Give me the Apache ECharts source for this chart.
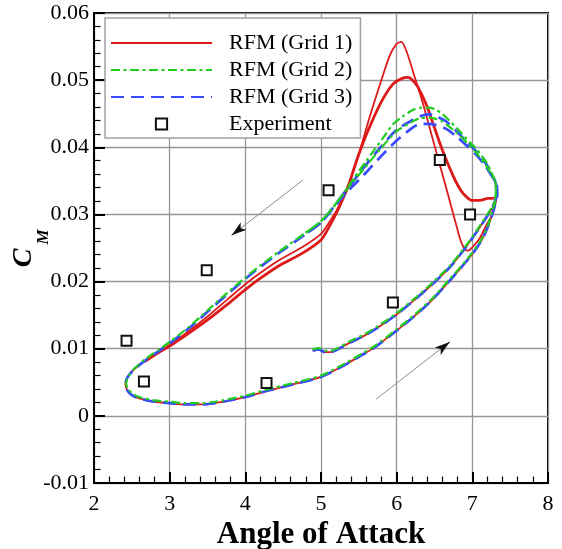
<!DOCTYPE html>
<html>
<head>
<meta charset="utf-8">
<script src="https://cdn.jsdelivr.net/npm/echarts@6/dist/echarts.min.js"></script>
<style>
  html, body { margin: 0; padding: 0; background: #fff; }
  #chart { width: 562px; height: 549px; }
</style>
</head>
<body>
<div id="chart"></div>
<script>
// Axis ranges
const xRange = [2, 8];
const yRange = [-0.01, 0.06];
const seriesNames = ['RFM (Grid 1)', 'RFM (Grid 2)', 'RFM (Grid 3)', 'Experiment'];

// Grid 3: start-up transient, first cycle, second cycle (alpha, Cm)
const grid3 = [
  [4.89,0.0097],[4.97,0.0099],[5.05,0.0095],[5.13,0.0095],[5.22,0.0099],[5.38,0.0109],[5.55,0.0118],[5.73,0.0130],
  [6.0,0.0151],[6.26,0.0175],[6.5,0.0199],[6.7,0.0221],[6.9,0.0249],[7.07,0.0276],[7.2,0.0298],[7.28,0.0314],[7.32,0.0330],
  [7.31,0.0346],[7.27,0.0357],[7.19,0.0374],[7.05,0.0394],[6.92,0.0409],[6.79,0.0424],[6.66,0.0438],[6.53,0.0446],
  [6.44,0.0449],[6.33,0.0447],[6.22,0.0441],[6.0,0.0426],[5.78,0.0399],[5.56,0.0369],[5.34,0.0337],[5.11,0.0303],
  [4.99,0.0287],[4.75,0.0267],[4.45,0.0243],[4.2,0.0222],[4.0,0.0204],[3.75,0.0180],[3.5,0.0155],[3.25,0.0130],
  [3.0,0.0108],[2.85,0.0096],[2.67,0.0082],[2.52,0.0068],[2.44,0.0057],[2.415,0.0047],[2.44,0.0038],[2.5,0.0031],
  [2.6,0.0026],[2.8,0.0021],[3.0,0.0019],[3.2,0.0017],[3.45,0.0017],[3.7,0.0021],[4.0,0.0028],[4.28,0.0037],
  [4.6,0.0046],[5.0,0.0058],[5.3,0.0075],[5.5,0.0088],[5.71,0.0102],[6.0,0.0127],[6.25,0.0150],[6.48,0.0174],
  [6.65,0.0195],[6.83,0.0218],[7.0,0.0241],[7.12,0.0261],[7.2,0.0280],[7.27,0.0302],[7.31,0.0318],[7.33,0.0331],
  [7.32,0.0345],[7.27,0.0355],[7.18,0.0371],[7.05,0.0389],[6.92,0.0403],[6.79,0.0416],[6.66,0.0427],[6.53,0.0433],
  [6.41,0.0435],[6.3,0.0434],[6.22,0.0430],[6.0,0.0410],[5.78,0.0385],[5.56,0.0358],[5.34,0.0333],[5.11,0.0302],
  [4.99,0.0287],[4.75,0.0267]
];

// Grid 2
const grid2 = [
  [4.89,0.0099],[4.97,0.0101],[5.05,0.0097],[5.13,0.0097],[5.22,0.0101],[5.38,0.0111],[5.55,0.0120],[5.73,0.0132],
  [6.0,0.0153],[6.26,0.0177],[6.5,0.0201],[6.7,0.0223],[6.9,0.0251],[7.07,0.0278],[7.2,0.0300],[7.28,0.0316],[7.31,0.0331],
  [7.31,0.0347],[7.27,0.0358],[7.19,0.0377],[7.05,0.0398],[6.97,0.0407],[6.79,0.0429],[6.61,0.0449],[6.5,0.0457],
  [6.42,0.0459],[6.33,0.0459],[6.22,0.0456],[6.08,0.0446],[5.95,0.0434],[5.82,0.0414],[5.6,0.0380],[5.38,0.0345],
  [5.2,0.0316],[4.99,0.0289],[4.75,0.0269],[4.45,0.0245],[4.2,0.0224],[4.0,0.0206],[3.75,0.0182],[3.5,0.0157],
  [3.25,0.0132],[3.0,0.0110],[2.85,0.0098],[2.67,0.0084],[2.53,0.0070],[2.45,0.0058],[2.425,0.0048],[2.45,0.0040],
  [2.51,0.0033],[2.6,0.0028],[2.8,0.0023],[3.0,0.0021],[3.2,0.0019],[3.45,0.0019],[3.7,0.0023],[4.0,0.0030],
  [4.28,0.0039],[4.6,0.0048],[5.0,0.0060],[5.3,0.0077],[5.5,0.0090],[5.71,0.0104],[6.0,0.0129],[6.25,0.0152],
  [6.48,0.0176],[6.65,0.0197],[6.83,0.0220],[7.0,0.0243],[7.12,0.0263],[7.2,0.0282],[7.26,0.0303],[7.3,0.0319],[7.31,0.0332],
  [7.31,0.0345],[7.27,0.0356],[7.18,0.0373],[7.05,0.0392],[6.92,0.0408],[6.79,0.0422],[6.61,0.0438],[6.5,0.0443],
  [6.44,0.0444],[6.3,0.0443],[6.22,0.0439],[6.0,0.0424],[5.78,0.0397],[5.56,0.0367],[5.34,0.0337],[5.11,0.0304],
  [4.99,0.0289],[4.75,0.0269]
];

// Grid 1, start-up transient and first cycle
const grid1Cycle1 = [
  [4.89,0.0097],[4.97,0.0099],[5.05,0.0095],[5.13,0.0095],[5.22,0.0099],[5.38,0.0109],[5.55,0.0118],[5.73,0.0130],
  [6.0,0.0151],[6.26,0.0175],[6.5,0.0199],[6.7,0.0221],[6.9,0.0249],[7.07,0.0276],[7.2,0.0298],[7.27,0.0310],[7.29,0.0312],
  [7.25,0.0297],[7.19,0.0285],[7.10,0.0265],[7.0,0.0251],[6.94,0.0246],[6.89,0.0250],[6.84,0.0263],[6.79,0.0283],
  [6.68,0.0329],[6.57,0.0374],[6.46,0.0419],[6.35,0.0464],[6.24,0.0504],[6.13,0.0543],[6.06,0.0557],[6.0,0.0554],
  [5.91,0.0537],[5.78,0.0494],[5.64,0.0444],[5.51,0.0394],[5.40,0.0356],[5.31,0.0329],[5.2,0.0305],[5.1,0.0287],
  [5.0,0.0271],[4.75,0.0251],[4.45,0.0232],[4.2,0.0213],[4.0,0.0196],[3.75,0.0172],[3.5,0.0148],[3.25,0.0126],
  [3.0,0.0106],[2.85,0.0095],[2.67,0.0082],[2.52,0.0068],[2.44,0.0057],[2.415,0.0047],[2.44,0.0038],[2.5,0.0031],
  [2.6,0.0026],[2.8,0.0021],[3.0,0.0019],[3.2,0.0017],[3.45,0.0017],[3.7,0.0021],[4.0,0.0028],[4.28,0.0037],
  [4.6,0.0046],[5.0,0.0058],[5.3,0.0075],[5.5,0.0088],[5.71,0.0102],[6.0,0.0127],[6.25,0.0150],[6.48,0.0174],
  [6.65,0.0195],[6.83,0.0218],[7.0,0.0241],[7.12,0.0261],[7.2,0.0280],[7.27,0.0302],[7.31,0.0318],[7.32,0.0326]
];

// Grid 1, later cycles
const grid1Cycle2 = [
  [7.32,0.0326],[7.27,0.0324],[7.21,0.0324],[7.10,0.0321],[6.99,0.0321],[6.88,0.0331],[6.81,0.0343],[6.74,0.0359],
  [6.61,0.0394],[6.50,0.0429],[6.39,0.0464],[6.28,0.0490],[6.2,0.0501],[6.15,0.0504],[6.08,0.0503],[5.95,0.0494],
  [5.78,0.0464],[5.60,0.0419],[5.47,0.0380],[5.36,0.0342],[5.3,0.0326],[5.2,0.0301],[5.1,0.0280],[5.0,0.0262],
  [4.75,0.0242],[4.45,0.0224],[4.2,0.0205],[4.0,0.0188],[3.75,0.0165],[3.5,0.0143],[3.25,0.0123],[3.0,0.0104],
  [2.85,0.0094],[2.67,0.0081]
];

// Measured points
const experiment = [
  [2.43,0.0112],[2.66,0.0051],[3.49,0.0217],[4.28,0.0049],[5.10,0.0336],[5.95,0.0169],[6.57,0.0381],[6.97,0.0300]
];

// Direction arrows: [from, to]
const arrowSegments = [
  [[4.76,0.0351],[3.82,0.0269]],
  [[5.73,0.0025],[6.70,0.0110]]
];

const serif = "'Liberation Serif', 'Times New Roman', serif";
const curveSmooth = 0.25;

const chart = echarts.init(document.getElementById('chart'));

const axisCommon = {
  axisLine: { show: true, onZero: false, lineStyle: { color: '#000', width: 2 } },
  axisTick: { show: true, inside: true, length: 11, lineStyle: { color: '#000', width: 2 } },
  minorTick: { show: true, splitNumber: 5, length: 6.5, lineStyle: { color: '#000', width: 1.2 } },
  splitLine: { show: true, lineStyle: { color: '#969696', width: 1.3 } },
  minorSplitLine: { show: false }
};

chart.setOption({
  animation: false,
  backgroundColor: '#fff',
  grid: {
    left: 94, right: 14, top: 13, bottom: 66, containLabel: false, outerBoundsMode: 'none',
    show: true, borderColor: '#000', borderWidth: 2, backgroundColor: 'transparent'
  },
  xAxis: Object.assign({
    type: 'value', min: xRange[0], max: xRange[1], interval: 1,
    axisLabel: { fontFamily: serif, fontSize: 22, color: '#000', margin: 10 },
    name: 'Angle of Attack', nameLocation: 'middle', nameGap: 23,
    nameTextStyle: { fontFamily: serif, fontSize: 31, fontWeight: 'bold', color: '#000' }
  }, axisCommon),
  yAxis: Object.assign({
    type: 'value', min: yRange[0], max: yRange[1], interval: 0.01,
    axisLabel: {
      fontFamily: serif, fontSize: 22, color: '#000', margin: 5,
      formatter: function (v) { return Math.abs(v) < 1e-9 ? '0' : v.toFixed(2); }
    }
  }, axisCommon),
  graphic: [
    { type: 'text', x: 24, y: 258, rotation: Math.PI / 2,
      style: { text: 'C', fontFamily: serif, fontSize: 28, fontWeight: 'bold', fontStyle: 'italic', fill: '#000', align: 'center', verticalAlign: 'middle' } },
    { type: 'text', x: 43.5, y: 237, rotation: Math.PI / 2,
      style: { text: 'M', fontFamily: serif, fontSize: 17, fontWeight: 'bold', fontStyle: 'italic', fill: '#000', align: 'center', verticalAlign: 'middle' } }
  ],
  legend: {
    orient: 'vertical', left: 105, top: 18,
    padding: [14, 8, 3, 5],
    itemWidth: 101, itemHeight: 14, itemGap: 5,
    backgroundColor: '#fff', borderColor: '#a0a0a0', borderWidth: 1.5, borderRadius: 0,
    selectedMode: false,
    textStyle: { fontFamily: serif, fontSize: 22, color: '#000', lineHeight: 22, padding: [0, 0, 0, 12] },
    data: [
      { name: seriesNames[0], itemStyle: { opacity: 0 } },
      { name: seriesNames[1], itemStyle: { opacity: 0 } },
      { name: seriesNames[2], itemStyle: { opacity: 0 } },
      { name: seriesNames[3] }
    ]
  },
  series: [
    {
      name: seriesNames[0], type: 'line', data: grid1Cycle1, symbol: 'none', smooth: curveSmooth, z: 2,
      lineStyle: { color: '#dc1a1a', width: 1.8, type: 'solid' }, itemStyle: { color: '#dc1a1a' }
    },
    {
      name: seriesNames[0], type: 'line', data: grid1Cycle2, symbol: 'none', smooth: curveSmooth, z: 2,
      lineStyle: { color: '#dc1a1a', width: 2.8, type: 'solid' }, itemStyle: { color: '#dc1a1a' }
    },
    {
      name: seriesNames[2], type: 'line', data: grid3, symbol: 'none', smooth: curveSmooth, z: 3,
      lineStyle: { color: '#3a4bff', width: 2.7, type: [13, 7] }, itemStyle: { color: '#3a4bff' }
    },
    {
      name: seriesNames[1], type: 'line', data: grid2, symbol: 'none', smooth: curveSmooth, z: 4,
      lineStyle: { color: '#1fcc1f', width: 2.2, type: [9, 3.5, 3, 3.5] }, itemStyle: { color: '#1fcc1f' }
    },
    {
      name: seriesNames[3], type: 'line', data: experiment, symbol: 'rect', symbolSize: 10, z: 5,
      lineStyle: { opacity: 0 },
      itemStyle: { color: '#fff', borderColor: '#111', borderWidth: 2 }
    },
    {
      id: 'arrows', type: 'line', data: [], symbol: 'none', silent: true, z: 1,
      markLine: {
        silent: true, animation: false,
        symbol: ['none', 'none'],
        label: { show: false },
        emphasis: { disabled: true },
        lineStyle: { type: 'solid', color: '#8c8c8c', width: 1 },
        data: []
      }
    }
  ]
});

// Arrows: gray shaft plus a dark head turned along the shaft's on-screen direction
const arrowLines = [];
arrowSegments.forEach(function (seg) {
  const a = seg[0], b = seg[1];
  const pa = chart.convertToPixel({ gridIndex: 0 }, a);
  const pb = chart.convertToPixel({ gridIndex: 0 }, b);
  const dx = pb[0] - pa[0], dy = pb[1] - pa[1];
  const rot = Math.atan2(-dx, -dy) * 180 / Math.PI;
  const h = [b[0] - 0.12 * (b[0] - a[0]), b[1] - 0.12 * (b[1] - a[1])];
  arrowLines.push([{ coord: a }, { coord: b }]);
  arrowLines.push([
    { coord: h, lineStyle: { color: '#111', width: 1 } },
    { coord: b, symbol: 'arrow', symbolSize: [7, 15], symbolRotate: rot }
  ]);
});
chart.setOption({ series: [{ id: 'arrows', markLine: { data: arrowLines } }] });
</script>
</body>
</html>
